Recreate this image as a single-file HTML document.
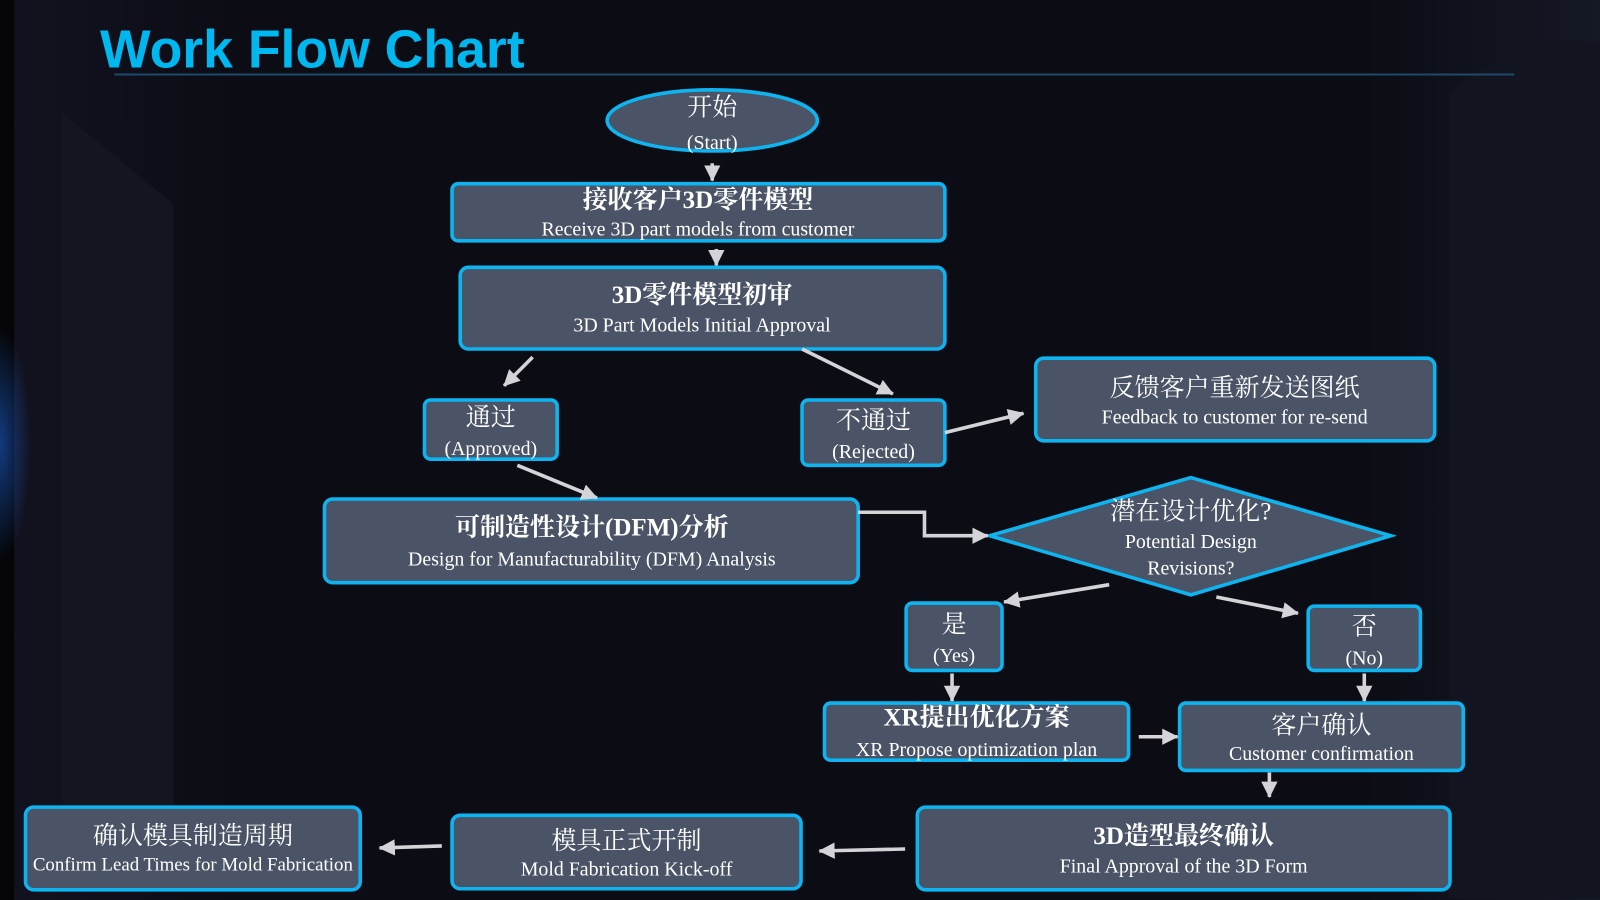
<!DOCTYPE html>
<html><head><meta charset="utf-8"><style>
html,body{margin:0;padding:0;background:#0b0c14;}
svg{display:block;}
.n{fill:#4a5466;stroke:#0db4f0;stroke-width:3.5;}
.c{font-family:"Liberation Serif","Noto Serif CJK SC","Noto Sans CJK SC",serif;fill:#fff;text-anchor:middle;font-size:24.5px;font-weight:bold;}
.e{font-family:"Liberation Serif",serif;fill:#fff;text-anchor:middle;font-size:19.5px;}
.a{stroke:#d4d4d8;stroke-width:3.5;fill:none;}
</style></head><body>
<svg width="1600" height="900" viewBox="0 0 1568 882" preserveAspectRatio="none" xmlns="http://www.w3.org/2000/svg">
<defs>
<marker id="h" markerUnits="userSpaceOnUse" markerWidth="18" markerHeight="18" refX="15" refY="8" orient="auto"><path d="M0,0 L16,8 L0,16 z" fill="#d4d4d8"/></marker>
<linearGradient id="bg" x1="0" x2="1"><stop offset="0" stop-color="#121320"/><stop offset="0.15" stop-color="#0b0c14"/><stop offset="0.85" stop-color="#0b0c14"/><stop offset="1" stop-color="#151825"/></linearGradient>
<radialGradient id="gl" cx="0" cy="0.5" r="0.5"><stop offset="0" stop-color="#1b5fd0" stop-opacity="0.6"/><stop offset="1" stop-color="#1b5fd0" stop-opacity="0"/></radialGradient>
</defs>
<rect width="1568" height="882" fill="url(#bg)"/>
<rect x="0" y="0" width="14" height="882" fill="#050507"/>
<polygon points="60,110 170,200 170,820 60,820" fill="#14151e"/>
<rect x="0" y="320" width="60" height="230" fill="url(#gl)"/>
<polygon points="1420,90 1500,40 1568,40 1568,880 1420,880" fill="#121420"/>
<text x="98" y="66" font-family="Liberation Sans,sans-serif" font-weight="bold" font-size="52.5" fill="#00b8f0">Work Flow Chart</text>
<line x1="112" y1="73" x2="1484" y2="73" stroke="#1e4a6a" stroke-width="2"/>

<ellipse class="n" cx="698" cy="118" rx="103" ry="30"/>
<text class="c" x="698" y="113" style="font-weight:normal">开始</text><text class="e" x="698" y="146">(Start)</text>

<rect class="n" x="443" y="180" width="483" height="56" rx="6"/>
<text class="c" x="684" y="204">接收客户3D零件模型</text><text class="e" x="684" y="231">Receive 3D part models from customer</text>

<rect class="n" x="451" y="262" width="475" height="80" rx="8"/>
<text class="c" x="688" y="297">3D零件模型初审</text><text class="e" x="688" y="325">3D Part Models Initial Approval</text>

<rect class="n" x="416" y="392" width="130" height="58" rx="6"/>
<text class="c" x="481" y="417" style="font-weight:normal">通过</text><text class="e" x="481" y="446">(Approved)</text>

<rect class="n" x="786" y="392" width="140" height="64" rx="6"/>
<text class="c" x="856" y="420" style="font-weight:normal">不通过</text><text class="e" x="856" y="449">(Rejected)</text>

<rect class="n" x="1015" y="351" width="391" height="81" rx="8"/>
<text class="c" x="1210" y="388" style="font-weight:normal">反馈客户重新发送图纸</text><text class="e" x="1210" y="415">Feedback to customer for re-send</text>

<rect class="n" x="318" y="489" width="523" height="82" rx="8"/>
<text class="c" x="580" y="525">可制造性设计(DFM)分析</text><text class="e" x="580" y="554">Design for Manufacturability (DFM) Analysis</text>

<polygon class="n" points="970,525 1167,468 1363,525 1167,583"/>
<text class="c" x="1167" y="509" style="font-weight:normal">潜在设计优化?</text><text class="e" x="1167" y="537">Potential Design</text><text class="e" x="1167" y="563">Revisions?</text>

<rect class="n" x="888" y="591" width="94" height="66" rx="6"/>
<text class="c" x="935" y="620" style="font-weight:normal">是</text><text class="e" x="935" y="649">(Yes)</text>

<rect class="n" x="1282" y="594" width="110" height="63" rx="6"/>
<text class="c" x="1337" y="622" style="font-weight:normal">否</text><text class="e" x="1337" y="651">(No)</text>

<rect class="n" x="808" y="689" width="298" height="56" rx="6"/>
<text class="c" x="957" y="711">XR提出优化方案</text><text class="e" x="957" y="741">XR Propose optimization plan</text>

<rect class="n" x="1156" y="689" width="278" height="66" rx="6"/>
<text class="c" x="1295" y="719" style="font-weight:normal">客户确认</text><text class="e" x="1295" y="745">Customer confirmation</text>

<rect class="n" x="899" y="791" width="522" height="81" rx="8"/>
<text class="c" x="1160" y="827">3D造型最终确认</text><text class="e" x="1160" y="855">Final Approval of the 3D Form</text>

<rect class="n" x="443" y="799" width="342" height="72" rx="8"/>
<text class="c" x="614" y="832" style="font-weight:normal">模具正式开制</text><text class="e" x="614" y="858">Mold Fabrication Kick-off</text>

<rect class="n" x="25" y="791" width="328" height="81" rx="8"/>
<text class="c" x="189" y="827" style="font-weight:normal">确认模具制造周期</text><text class="e" x="189" y="853" style="font-size:18.5px">Confirm Lead Times for Mold Fabrication</text>

<line class="a" x1="698" y1="160" x2="698" y2="177" marker-end="url(#h)"/>
<line class="a" x1="702" y1="244" x2="702" y2="260" marker-end="url(#h)"/>
<line class="a" x1="522" y1="350" x2="494" y2="378" marker-end="url(#h)"/>
<line class="a" x1="786" y1="342" x2="875" y2="386" marker-end="url(#h)"/>
<line class="a" x1="926" y1="424" x2="1003" y2="405" marker-end="url(#h)"/>
<line class="a" x1="507" y1="456" x2="585" y2="488" marker-end="url(#h)"/>
<polyline class="a" points="841,502 906,502 906,525 968,525" marker-end="url(#h)"/>
<line class="a" x1="1087" y1="573" x2="984" y2="590" marker-end="url(#h)"/>
<line class="a" x1="1192" y1="585" x2="1272" y2="601" marker-end="url(#h)"/>
<line class="a" x1="933" y1="660" x2="933" y2="687" marker-end="url(#h)"/>
<line class="a" x1="1337" y1="660" x2="1337" y2="687" marker-end="url(#h)"/>
<line class="a" x1="1116" y1="722" x2="1154" y2="722" marker-end="url(#h)"/>
<line class="a" x1="1244" y1="757" x2="1244" y2="781" marker-end="url(#h)"/>
<line class="a" x1="887" y1="832" x2="803" y2="834" marker-end="url(#h)"/>
<line class="a" x1="433" y1="829" x2="372" y2="831" marker-end="url(#h)"/>
</svg>
</body></html>
